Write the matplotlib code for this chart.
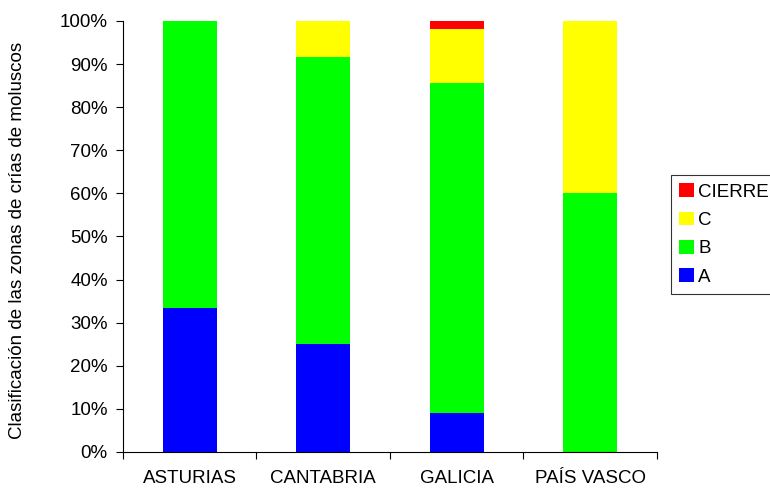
import numpy as np
import matplotlib
matplotlib.use("Agg")
from matplotlib import pyplot as plt
from matplotlib.ticker import PercentFormatter, FixedLocator

plt.rcParams['font.family'] = ['Liberation Sans', 'DejaVu Sans']

regions = ["ASTURIAS", "CANTABRIA", "GALICIA", "PAÍS VASCO"]
series = ["A", "B", "C", "CIERRE"]
colors = ["#0000ff", "#00ff00", "#ffff00", "#ff0000"]
# percentages per series, one value per region
pct_a = [33.3, 25.0, 9.1, 0.0]
pct_b = [66.7, 66.7, 76.4, 60.0]
pct_c = [0.0, 8.3, 12.7, 40.0]
pct_cierre = [0.0, 0.0, 1.8, 0.0]
values = [pct_a, pct_b, pct_c, pct_cierre]

FS = 13.5

fig = plt.figure(figsize=(7.7, 4.88), dpi=100)
ax = fig.add_axes([0.1597, 0.0738, 0.6935, 0.8832])

x = np.arange(len(regions))
bottom = np.zeros(len(regions))
handles = []
for name, vals, col in zip(series, values, colors):
    h = ax.bar(x, vals, width=0.405, bottom=bottom, color=col, label=name)
    handles.append(h)
    bottom += np.array(vals)

ax.set_xlim(-0.5, len(regions) - 0.5)
ax.set_ylim(0, 100)
ax.yaxis.set_major_locator(FixedLocator(np.arange(0, 101, 10)))
ax.yaxis.set_major_formatter(PercentFormatter(decimals=0))

ax.set_xticks(x)
ax.set_xticklabels(regions)
ax.xaxis.set_minor_locator(FixedLocator(np.arange(-0.5, len(regions), 1.0)))
ax.tick_params(axis="x", which="major", length=0, pad=13, labelsize=FS)
ax.tick_params(axis="x", which="minor", length=5, width=0.8, direction="out")
ax.tick_params(axis="y", length=5, width=0.8, direction="out", labelsize=FS, pad=6)

for side in ("top", "right"):
    ax.spines[side].set_visible(False)
for side in ("left", "bottom"):
    ax.spines[side].set_linewidth(0.8)

ax.set_ylabel("Clasificación de las zonas de crías de moluscos", fontsize=FS)
ax.yaxis.set_label_coords(-0.182, 0.49)

leg = fig.legend(handles[::-1], series[::-1], loc="upper left",
                 bbox_to_anchor=(671 / 770, 1 - 175 / 488), frameon=True,
                 fancybox=False, edgecolor="black", fontsize=FS,
                 handlelength=0.75, handleheight=0.75, handletextpad=0.25,
                 labelspacing=0.58, borderpad=0.45, borderaxespad=0)
leg.get_frame().set_linewidth(0.8)

fig.savefig("out.png", dpi=100)
